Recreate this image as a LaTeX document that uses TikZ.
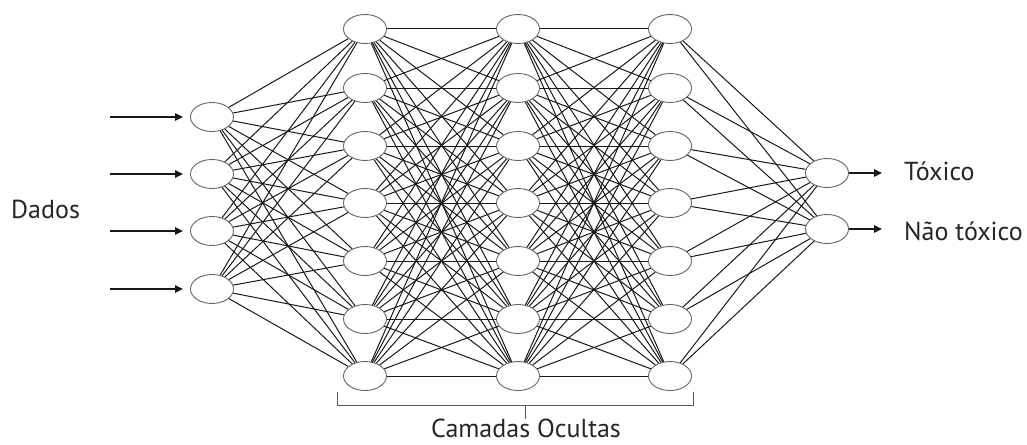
\documentclass[tikz,border=0pt]{standalone}
\usepackage{fontspec}
\setmainfont{PT Sans}
\usetikzlibrary{arrows.meta,shapes.geometric,backgrounds}
\begin{document}
\begin{tikzpicture}[x=1pt,y=-1pt,
  neuron/.style={ellipse, draw=black!60, fill=white, line width=0.9pt,
    minimum width=43pt, minimum height=29pt, inner sep=0pt},
  link/.style={draw=black!90, line width=1pt},
  flow/.style={draw=black!90, line width=1.3pt, -{Triangle[length=8pt,width=7.5pt]}},
  label/.style={font=\fontsize{26}{30}\selectfont, text=black!85, inner sep=0pt},
  bracket/.style={draw=black!65, line width=1pt}
]
\useasboundingbox (0,0) rectangle (1027,444);

% input layer
\foreach \i/\y in {1/117,2/174,3/231,4/289}
  \node[neuron] (in\i) at (212,\y) {};

% hidden layers
\foreach \l/\x in {1/365,2/518,3/670}
  \foreach \i/\y in {1/29,2/88,3/146,4/203,5/261,6/319,7/376}
    \node[neuron] (h\l-\i) at (\x,\y) {};

% output layer
\node[neuron] (out1) at (827,173) {};
\node[neuron] (out2) at (827,229) {};

% weights
\begin{scope}[on background layer]
  \foreach \a in {1,...,4}
    \foreach \b in {1,...,7}
      \draw[link] (in\a) -- (h1-\b);
  \foreach \a in {1,...,7}
    \foreach \b in {1,...,7} {
      \draw[link] (h1-\a) -- (h2-\b);
      \draw[link] (h2-\a) -- (h3-\b);
    }
  \foreach \a in {1,...,7}
    \foreach \b in {1,2}
      \draw[link] (h3-\a) -- (out\b);
\end{scope}

% input arrows
\foreach \i/\y in {1/117,2/174,3/231,4/289} {
  \coordinate (src\i) at (110,\y);
  \draw[flow, shorten >=7pt] (src\i) -- (in\i);
}
\node[label, anchor=base west] (dados) at (11,218) {Dados};

% output arrows and classes
\coordinate (t1) at (882,173);
\coordinate (t2) at (882,229);
\draw[flow] (out1) -- (t1);
\draw[flow] (out2) -- (t2);
\node[label, anchor=base west] (tox) at (904,180) {Tóxico};
\node[label, anchor=base west] (ntox) at (904,240) {Não tóxico};

% bracket over the hidden layers
\coordinate (bl) at (337,392);
\coordinate (br) at (693,392);
\coordinate (bm) at (525,405);
\coordinate (bt) at (525,419);
\draw[bracket] (bl) -- (337,405) -- (693,405) -- (br);
\draw[bracket] (bm) -- (bt);
\node[label, anchor=base] (camadas) at (526,437) {Camadas Ocultas};
\end{tikzpicture}
\end{document}
